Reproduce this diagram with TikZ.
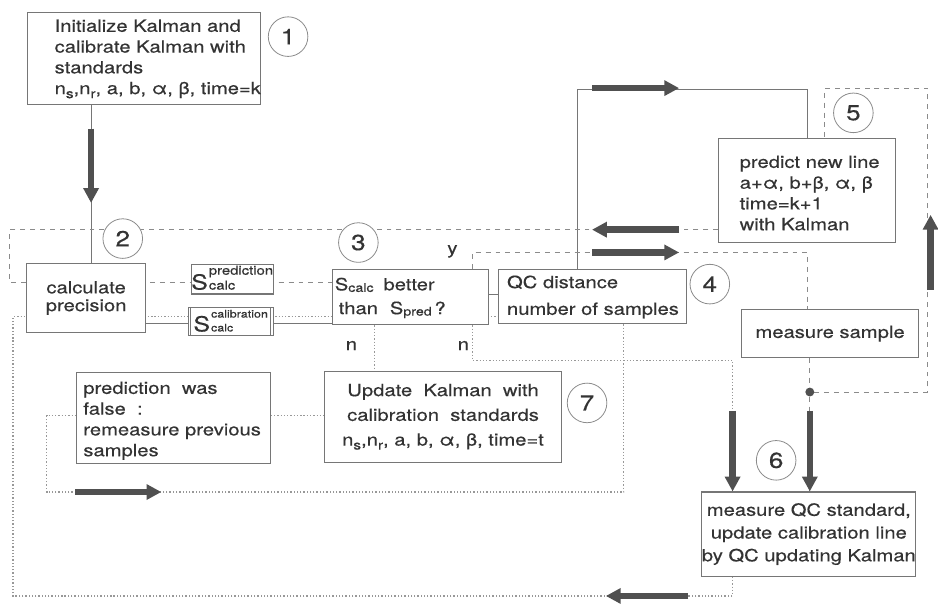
\documentclass[tikz,border=0pt]{standalone}
\usepackage{fontspec}
\setmainfont[FakeStretch=1.2,FakeBold=0.35]{TeX Gyre Heros}
\usetikzlibrary{arrows.meta}

\definecolor{ink}{HTML}{333333}
\definecolor{edge}{HTML}{767676}
\definecolor{flow}{HTML}{505050}

\pgfdeclarelayer{paper}
\pgfdeclarelayer{wires}
\pgfsetlayers{paper,wires,main}

% lowered small index, e.g. n_s
\newcommand\lo[1]{\raisebox{-4bp}{\fontsize{13bp}{13bp}\selectfont #1}}
% slightly lowered small index, e.g. S_calc
\newcommand\lw[1]{\raisebox{-1.5bp}{\fontsize{12bp}{12bp}\selectfont #1}}
% S with stacked upper and lower index
\newcommand\Sstack[3]{{\fontsize{21bp}{21bp}\selectfont S}\kern1bp{\fontsize{#1}{#2}\selectfont\begin{tabular}[b]{@{}l@{}}#3\\calc\end{tabular}}}

\tikzset{
  box/.style={draw=edge, line width=1.1bp, fill=white, text=ink, inner sep=0pt,
    font=\fontsize{17bp}{21bp}\selectfont},
  txt/.style={text=ink, inner sep=0pt, anchor=west, align=left,
    font=\fontsize{17bp}{21bp}\selectfont},
  num/.style={circle, draw=edge!85, line width=0.8bp, fill=white, minimum size=40bp,
    inner sep=0pt, text=ink, font=\fontsize{22bp}{22bp}\selectfont},
  tag/.style={text=ink, inner sep=0pt, font=\fontsize{17bp}{21bp}\selectfont},
  wire/.style={draw=edge, line width=1bp},
  dashwire/.style={draw=edge!85, line width=1bp, dash pattern=on 5bp off 5bp},
  dotwire/.style={draw=edge!75, line width=1.3bp, dash pattern=on 1.3bp off 2bp},
  bigarrow/.style={draw=flow, line width=6.5bp, -{Triangle[length=15bp,width=15bp]}},
}

\begin{document}
\begin{tikzpicture}[x=1bp,y=-1bp]
\begin{pgfonlayer}{paper}
  \useasboundingbox[fill=white] (0,0) rectangle (938,606);
\end{pgfonlayer}

% ---- boxes ----
\node[box, minimum width=235bp, minimum height=93bp] (init) at (145.5,59.5) {};
\node[txt] (initT) at (55,59.5)
  {Initialize Kalman and\\calibrate Kalman with\\standards\\n\lo{s},n\lo{r}, a, b, α, β, time=k};
\node[box, minimum width=120bp, minimum height=70bp, align=center] (calc) at (87,301)
  {calculate\\[-3bp]precision};
\node[box, minimum width=83bp, minimum height=28bp] (spred) at (234.5,282)
  {\Sstack{12.5bp}{15bp}{prediction}};
\node[box, minimum width=86bp, minimum height=28bp] (scal) at (233,325)
  {\Sstack{10.5bp}{14bp}{calibration}};
\node[box, minimum width=157bp, minimum height=56bp] (cmp) at (414.5,300) {};
\node[txt] (cmpT) at (338,301)
  {S\lw{calc}\hspace{10bp}better\\[3bp]\hspace*{4bp}than\hspace{12bp}S\lw{pred}\,?};
\node[box, minimum width=189bp, minimum height=55bp] (qc) at (598.5,299.5) {};
\node[txt] (qcT) at (512,300) {QC distance\\[6bp]number of samples};
\node[box, minimum width=179bp, minimum height=105bp] (pred) at (815.5,192.5) {};
\node[txt] (predT) at (747,195) {predict new line\\a+α, b+β, α, β\\time=k+1\\with Kalman};
\node[box, minimum width=179bp, minimum height=48bp] (meas) at (838.5,337)
  {measure sample};
\node[box, minimum width=210bp, minimum height=85bp, align=center] (qcstd) at (817,539.5)
  {measure QC standard,\\[2bp]update calibration line\\[2bp]by QC updating Kalman};
\node[box, minimum width=239bp, minimum height=92bp, align=center] (upd) at (447.5,421)
  {Update\ \ Kalman\ \ with\\[4bp]calibration\ \ standards\\[4bp]n\lo{s},n\lo{r}, a, b, α, β, time=t};
\node[box, minimum width=196bp, minimum height=92bp] (false) at (175,422) {};
\node[txt] (falseT) at (84,425) {prediction\ \ was\\false\ \ :\\remeasure previous\\samples};

% double side rules of the calibration box
\draw[draw=edge, line width=1bp] ([xshift=3bp]scal.north west) -- ([xshift=3bp]scal.south west);
\draw[draw=edge, line width=1bp] ([xshift=-3bp]scal.north east) -- ([xshift=-3bp]scal.south east);

% ---- named points of the wiring ----
\coordinate (c92) at (92,0);
\coordinate (c583) at (583,0);
\coordinate (t816) at (816,90);
\coordinate (L1) at (10,232);
\coordinate (L2) at (10,285);
\coordinate (Y1) at (477,255);
\coordinate (Y2) at (816,255);
\coordinate (R1) at (937,396);
\coordinate (R2) at (937,89);
\coordinate (R3) at (833,89);
\coordinate (B1) at (740,602);
\coordinate (B2) at (13,602);
\coordinate (B3) at (13,320);
\coordinate (N1) at (378,0);
\coordinate (M1) at (477,364);
\coordinate (M2) at (740,364);
\coordinate (Q1) at (630,497);
\coordinate (Q2) at (47,497);
\coordinate (Q3) at (47,420);
\coordinate (h327) at (0,327);
\coordinate (h297) at (0,297);

\node[circle, fill=flow, minimum size=9bp, inner sep=0pt] (dot) at (818,396) {};

% ---- connectors, behind the boxes ----
\begin{pgfonlayer}{wires}
  % solid
  \draw[wire] (init.south -| c92) -- (calc.north -| c92);
  \draw[wire] (calc.east |- h327) -- (cmp.west |- h327);
  \draw[wire] (cmp.east |- h297) -- (qc.west |- h297);
  \draw[wire] (qc.north -| c583) -- (c583 |- t816) -- (t816) -- (pred.north -| t816);
  % dashed
  \draw[dashwire] (pred.west |- L1) -- (L1) -- (L2) -- (cmp.west |- L2);
  \draw[dashwire] (cmp.north -| Y1) -- (Y1) -- (Y2) -- (meas.north -| Y2);
  \draw[dashwire] (meas.south -| dot) -- (dot) -- (qcstd.north -| dot);
  \draw[dashwire] (dot) -- (R1) -- (R2) -- (R3) -- (pred.north -| R3);
  % dotted
  \draw[dotwire] (qcstd.south -| B1) -- (B1) -- (B2) -- (B3) -- (qc.west |- B3);
  \draw[dotwire] (cmp.south -| N1) -- (upd.north -| N1);
  \draw[dotwire] (cmp.south -| M1) -- (M1) -- (M2) -- (qcstd.north -| M2);
  \draw[dotwire] (qc.south -| Q1) -- (Q1) -- (Q2) -- (Q3) -- (false.west |- Q3);
  \draw[dotwire] (false.east |- Q3) -- (upd.west |- Q3);
\end{pgfonlayer}

% ---- step numbers ----
\node[num] (n1) at (291,37) {1};
\node[num] (n2) at (124,241) {2};
\node[num] (n3) at (362,245) {3};
\node[num] (n4) at (717,287) {4};
\node[num] (n5) at (862,114) {5};
\node[num] (n6) at (784,465) {6};
\node[num] (n7) at (593,407) {7};

% ---- branch labels ----
\node[tag] (yes) at (457,254) {y};
\node[tag] (no1) at (355,349) {n};
\node[tag] (no2) at (468,349) {n};

% ---- heavy flow arrows ----
\coordinate (a1s) at (92,130);  \coordinate (a1e) at (92,205);
\coordinate (a2s) at (598,89);  \coordinate (a2e) at (686,89);
\coordinate (a3s) at (686,232); \coordinate (a3e) at (598,232);
\coordinate (a4s) at (598,255); \coordinate (a4e) at (686,255);
\coordinate (a5s) at (940,293); \coordinate (a5e) at (940,217);
\coordinate (a6s) at (740,415);
\coordinate (a7s) at (818,415);
\coordinate (a8s) at (76,497);  \coordinate (a8e) at (163,497);
\coordinate (a9s) at (695,602); \coordinate (a9e) at (612,602);
\draw[bigarrow] (a1s) -- (a1e);
\draw[bigarrow] (a2s) -- (a2e);
\draw[bigarrow] (a3s) -- (a3e);
\draw[bigarrow] (a4s) -- (a4e);
\draw[bigarrow] (a5s) -- (a5e);
\draw[bigarrow] (a6s) -- (qcstd.north -| a6s);
\draw[bigarrow] (a7s) -- (qcstd.north -| a7s);
\draw[bigarrow] (a8s) -- (a8e);
\draw[bigarrow] (a9s) -- (a9e);
\end{tikzpicture}
\end{document}
